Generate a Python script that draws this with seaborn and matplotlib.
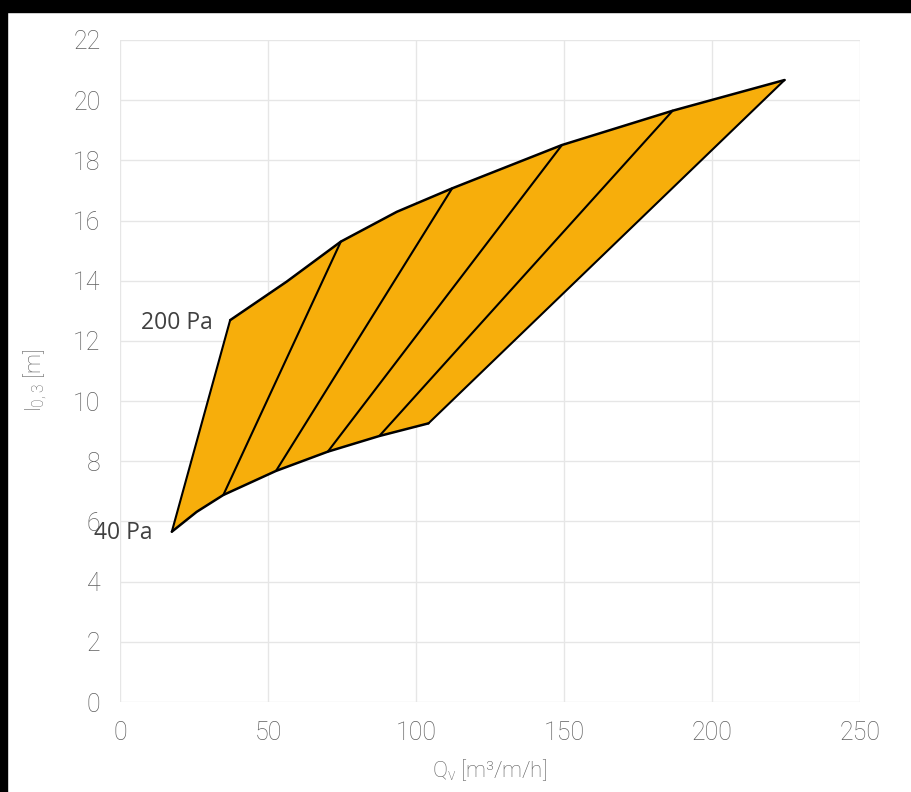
import numpy as np
import pandas as pd
import matplotlib
matplotlib.use("Agg")
import matplotlib.pyplot as plt
import seaborn as sns

# 40 Pa curve (bottom edge of the envelope)
q_40 = [17.5, 25.9, 34.9, 52.7, 70.2, 87.6, 104.2]
l_40 = [5.66, 6.32, 6.88, 7.68, 8.32, 8.84, 9.26]

# 200 Pa curve (top edge of the envelope)
q_200 = [37.2, 56.3, 74.6, 93.5, 112.2, 149.3, 186.7, 224.5]
l_200 = [12.69, 13.97, 15.30, 16.29, 17.07, 18.51, 19.65, 20.67]

# which points on each curve belong to the same setting (straight lines between them)
setting_idx_40 = [0, 2, 3, 4, 5, 6]
setting_idx_200 = [0, 2, 4, 5, 6, 7]

x_ticks = [0, 50, 100, 150, 200, 250]
y_ticks = [0, 2, 4, 6, 8, 10, 12, 14, 16, 18, 20, 22]

FILL = "#F7AE0B"
GRID = "#E6E6E6"
TICK_COL = "#5E5E5E"
TEXT_COL = "#404040"

sns.set_theme(style="whitegrid")
plt.rcParams["font.family"] = ["Roboto", "DejaVu Sans"]
plt.rcParams["mathtext.default"] = "regular"

fig = plt.figure(figsize=(9.12, 7.92), dpi=100)
ax = fig.add_axes([0.1316, 0.1136, 0.8114, 0.8359])

# envelope: bottom curve forward, top curve back
poly_q = q_40 + q_200[::-1]
poly_l = l_40 + l_200[::-1]
ax.fill(poly_q, poly_l, color=FILL, zorder=2, linewidth=0)

curves = pd.DataFrame({
    "Qv": q_40 + q_200,
    "l": l_40 + l_200,
    "curve": ["40 Pa"] * len(q_40) + ["200 Pa"] * len(q_200),
})
sns.lineplot(data=curves, x="Qv", y="l", units="curve", estimator=None,
             sort=False, color="black", linewidth=1.8, ax=ax, zorder=3)

rows = []
for k, (i, j) in enumerate(zip(setting_idx_40, setting_idx_200)):
    rows.append({"Qv": q_40[i], "l": l_40[i], "setting": k})
    rows.append({"Qv": q_200[j], "l": l_200[j], "setting": k})
settings = pd.DataFrame(rows)
sns.lineplot(data=settings, x="Qv", y="l", units="setting", estimator=None,
             sort=False, color="black", linewidth=1.5, ax=ax, zorder=3)

ax.text(q_200[0] - 5.8, l_200[0] - 0.1, "200 Pa", ha="right", va="center",
        fontsize=16.5, color=TEXT_COL, family=["Open Sans", "DejaVu Sans"],
        zorder=4, clip_on=False)
ax.text(q_40[0] - 6.6, l_40[0] - 0.05, "40 Pa", ha="right", va="center",
        fontsize=16.5, color=TEXT_COL, family=["Open Sans", "DejaVu Sans"],
        zorder=4, clip_on=False)

ax.set_xlim(0, 250)
ax.set_ylim(0, 22)
ax.set_xticks(x_ticks)
ax.set_yticks(y_ticks)
ax.set_facecolor("white")
ax.grid(True, color=GRID, linewidth=1.0)
for s in ax.spines.values():
    s.set_visible(False)
ax.tick_params(axis="both", length=0, pad=14, labelsize=18, labelcolor=TICK_COL)
for lab in ax.get_xticklabels() + ax.get_yticklabels():
    lab.set_fontweight("light")

ax.set_xlabel("Q$_{v}$ [m³/m/h]", fontsize=16, color=TICK_COL, fontweight="light")
ax.set_ylabel("l$_{0,3}$ [m]", fontsize=16, color=TICK_COL, fontweight="light")
ax.xaxis.set_label_coords(0.5, -0.083)
ax.yaxis.set_label_coords(-0.095, 0.486)

# dark strips along the top and left edge of the original picture
fig.patches.append(plt.Rectangle((0, 1 - 12 / 792), 1, 12 / 792,
                                 transform=fig.transFigure, color="black"))
fig.patches.append(plt.Rectangle((0, 0), 7 / 912, 1,
                                 transform=fig.transFigure, color="black"))

fig.savefig("out.png", dpi=100, facecolor="white")
